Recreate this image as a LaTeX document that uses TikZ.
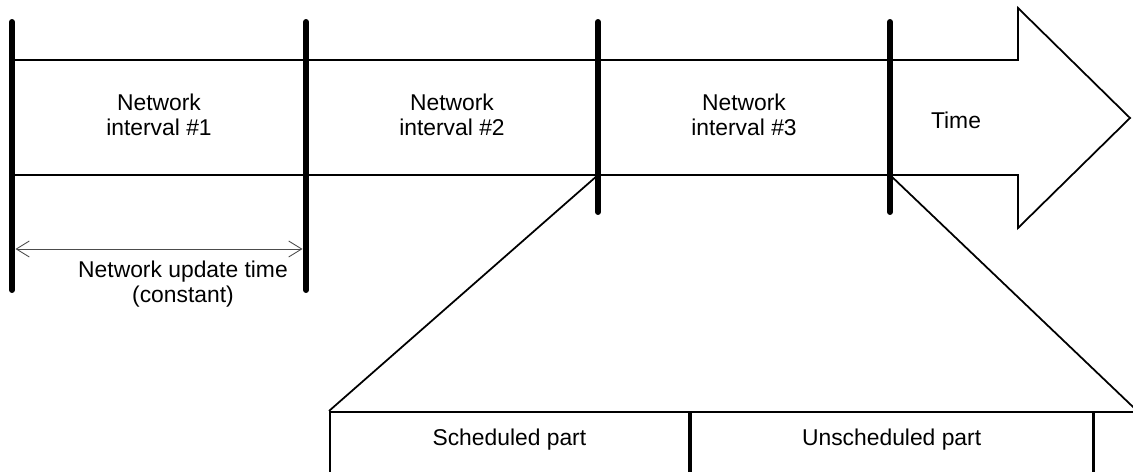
\documentclass[tikz,border=0pt]{standalone}
\usepackage{fontspec}
\setmainfont{Liberation Sans}
\usetikzlibrary{arrows.meta}
\tikzset{
  bar/.style={line width=3.4pt, line cap=round},
  lbl/.style={align=center, font=\fontsize{13}{14}\selectfont},
  part/.style={draw, line width=1pt, text height=0.68cm, text depth=1.0cm, anchor=north west, inner sep=0pt, lbl},
  dim/.style={gray!60!black, line width=0.5pt, {Straight Barb[length=2.6mm,width=3.2mm]}-{Straight Barb[length=2.6mm,width=3.2mm]}},
}
\begin{document}
\begin{tikzpicture}[line width=1pt]
\useasboundingbox (0,0) rectangle (22.66,9.44);
\clip (0,0) rectangle (22.66,9.44);
\draw[line join=miter] (0.24,8.24) -- (20.36,8.24) -- (20.36,9.28) -- (22.6,7.08)
  -- (20.36,4.88) -- (20.36,5.94) -- (0.24,5.94);
\draw[bar] (0.24,9.0) -- (0.24,3.64);
\draw[bar] (6.12,9.0) -- (6.12,3.64);
\draw[bar] (11.96,9.0) -- (11.96,5.2);
\draw[bar] (17.8,9.0) -- (17.8,5.2);
\coordinate (z1) at (11.96,5.94);
\coordinate (z2) at (17.8,5.94);
\node[lbl] (iv1) at (3.18,7.14) {Network\\interval \#1};
\node[lbl] (iv2) at (9.04,7.14) {Network\\interval \#2};
\node[lbl] (iv3) at (14.88,7.14) {Network\\interval \#3};
\node[lbl] (time) at (19.12,7.04) {Time};
\coordinate (d1) at (0.31,4.46);
\coordinate (d2) at (6.05,4.46);
\draw[dim] (d1) -- (d2);
\node[lbl] (upd) at (3.66,3.76) {Network update time\\(constant)};
\node[part, minimum width=7.18cm] (sched) at (6.58,1.22) {Scheduled part};
\node[part, minimum width=8.04cm] (unsched) at (sched.north east) {Unscheduled part};
\node[part, minimum width=0.84cm] (rest) at (unsched.north east) {};
\draw (z1) -- (sched.north west);
\draw (z2) -- (rest.north east);
\end{tikzpicture}
\end{document}
